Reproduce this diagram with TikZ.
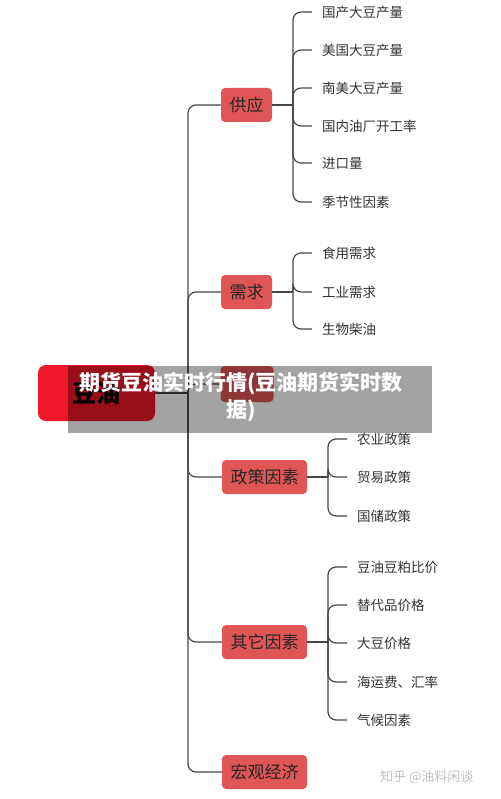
\documentclass[tikz,border=0pt]{standalone}
\usepackage{fontspec}
\setmainfont{Noto Sans CJK SC}
\definecolor{rootred}{RGB}{240,24,40}
\definecolor{lonered}{RGB}{224,86,86}
\definecolor{linec}{RGB}{70,70,70}
\begin{document}
\begin{tikzpicture}[x=1pt,y=1pt,
 rootbox/.style={fill=rootred, rounded corners=8pt, minimum width=117pt, minimum height=56pt, font=\fontsize{24}{28}\selectfont\bfseries, text=black},
 lonebox/.style={fill=lonered, rounded corners=4pt, minimum height=34pt, inner xsep=8.5pt, font=\fontsize{17}{20}\selectfont, text=black!85},
 leaf/.style={anchor=west, inner xsep=10pt, font=\fontsize{13.5}{16}\selectfont, text=black!80},
 conn/.style={draw=linec, line width=1.2pt, rounded corners=8pt}]
\useasboundingbox (0,0) rectangle (500,-799);
% level 1 nodes
\node[rootbox] (root) at (96.5,-393) {豆油};
\node[lonebox] (gy) at (246.5,-105) {供应};
\node[lonebox] (xq) at (246.5,-292) {需求};
\node[lonebox, minimum width=53pt, minimum height=36pt] (hid) at (247,-384) {};
\node[lonebox] (zc) at (264.5,-477) {政策因素};
\node[lonebox] (qt) at (264.5,-642) {其它因素};
\node[lonebox] (hg) at (264.5,-772) {宏观经济};
% trunk
\coordinate (tk) at (188,-393);
\draw[conn] (root.east) -- (tk);
\foreach \n in {gy,xq,hid,zc,qt,hg} \draw[conn] (tk) |- (\n.west);
% supply leaves
\coordinate (gyb) at (293,-105);
\draw[conn] (gy.east) -- (gyb);
\node[leaf] (g1) at (312,-12) {国产大豆产量};
\node[leaf] (g2) at (312,-50) {美国大豆产量};
\node[leaf] (g3) at (312,-88) {南美大豆产量};
\node[leaf] (g4) at (312,-126) {国内油厂开工率};
\node[leaf] (g5) at (312,-163) {进口量};
\node[leaf] (g6) at (312,-202) {季节性因素};
\foreach \n in {g1,g2,g3,g4,g5,g6} \draw[conn] (gyb) |- (\n.west);
% demand leaves
\coordinate (xqb) at (293,-292);
\draw[conn] (xq.east) -- (xqb);
\node[leaf] (x1) at (312,-253) {食用需求};
\node[leaf] (x2) at (312,-292) {工业需求};
\node[leaf] (x3) at (312,-329) {生物柴油};
\foreach \n in {x1,x2,x3} \draw[conn] (xqb) |- (\n.west);
% policy leaves
\coordinate (zcb) at (328,-477);
\draw[conn] (zc.east) -- (zcb);
\node[leaf] (z1) at (347,-439) {农业政策};
\node[leaf] (z2) at (347,-477) {贸易政策};
\node[leaf] (z3) at (347,-516) {国储政策};
\foreach \n in {z1,z2,z3} \draw[conn] (zcb) |- (\n.west);
% other leaves
\coordinate (qtb) at (328,-642);
\draw[conn] (qt.east) -- (qtb);
\node[leaf] (q1) at (347,-567) {豆油豆粕比价};
\node[leaf] (q2) at (347,-605) {替代品价格};
\node[leaf] (q3) at (347,-643) {大豆价格};
\node[leaf] (q4) at (347,-682) {海运费、汇率};
\node[leaf] (q5) at (347,-720) {气候因素};
\foreach \n in {q1,q2,q3,q4,q5} \draw[conn] (qtb) |- (\n.west);
% overlay banner
\fill[black, opacity=0.36] (68,-366) rectangle (432,-433);
\node[font=\fontsize{21}{27}\selectfont\bfseries, text=white, align=center] (banner) at (241,-397) {期货豆油实时行情(豆油期货实时数\\据)};
% watermark
\node[anchor=west, inner sep=0pt, font=\fontsize{13}{15}\selectfont, text=black!25] (wm) at (380,-777) {知乎 @油料闲谈};
\end{tikzpicture}
\end{document}
